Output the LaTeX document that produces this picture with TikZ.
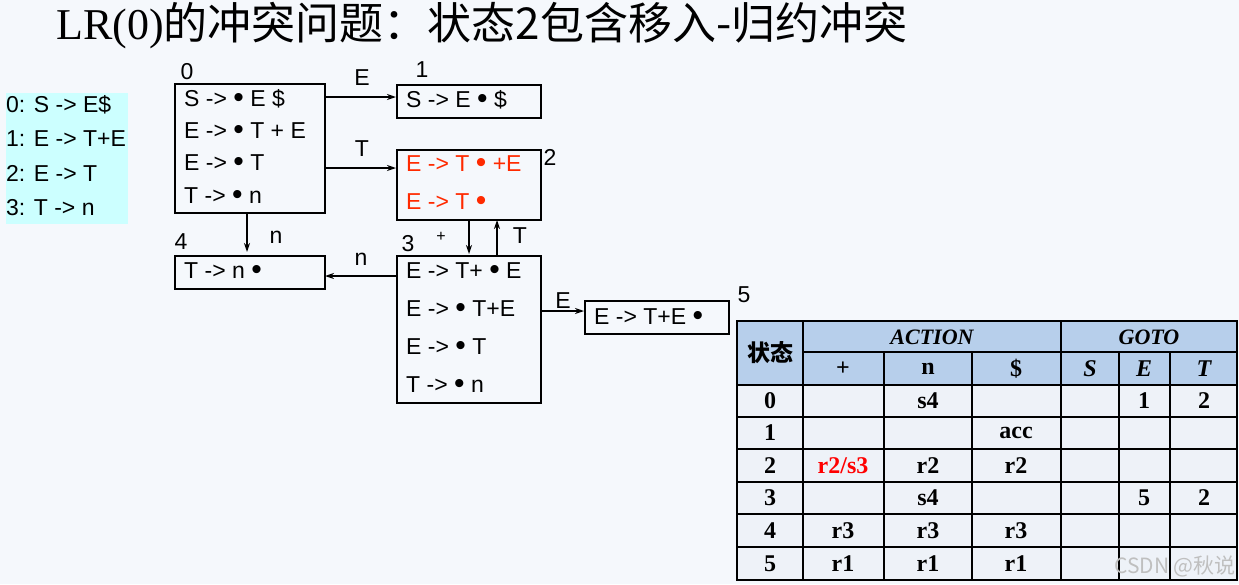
\documentclass[tikz,border=0pt]{standalone}
\usepackage{fontspec}
\setmainfont{Liberation Serif}
\newfontfamily\cjk{Noto Sans CJK SC}
\newfontfamily\diag{Liberation Sans}
\usetikzlibrary{arrows.meta}
\definecolor{hdr}{HTML}{B7CFEB}
\definecolor{cellbg}{HTML}{EEF2F8}
\definecolor{pagebg}{HTML}{F5F8FC}
\definecolor{cyanbox}{HTML}{CCFFFF}
\definecolor{redt}{HTML}{FF2A00}
\newcommand{\bt}{{\fontsize{30}{30}\selectfont\raisebox{-1pt}{•}}}
\tikzset{x=1pt,y=-1pt,
  st/.style={draw,line width=2pt,anchor=north west,inner sep=0pt},
  it/.style={font=\diag\fontsize{23}{23}\selectfont,anchor=west,inner sep=0pt},
  lb/.style={font=\diag\fontsize{23}{23}\selectfont,inner sep=0pt},
  ar/.style={-{Stealth[length=9pt,width=6pt]},line width=1.4pt},
  tc/.style={font=\bfseries\fontsize{24}{24}\selectfont,inner sep=0pt}}
\begin{document}
\begin{tikzpicture}
\useasboundingbox (0,0) rectangle (1239,584);
\fill[pagebg] (0,0) rectangle (1239,584);
% title
\node[anchor=west,inner sep=0pt,font=\cjk\fontsize{44}{44}\selectfont] (title) at (56,26) {{\rmfamily LR(0)}的冲突问题：状态2包含移入-归约冲突};
% grammar
\fill[cyanbox] (6,93) rectangle (128,224);
\node[it] (g0) at (6,105) {0: S -> E\$};
\node[it] (g1) at (6,139) {1: E -> T+E};
\node[it] (g2) at (6,173) {2: E -> T};
\node[it] (g3) at (6,208) {3: T -> n};
% states
\node[st,minimum width=150,minimum height=129] (s0) at (174,83) {};
\node[st,minimum width=144,minimum height=33] (s1) at (396,84) {};
\node[st,minimum width=144,minimum height=70] (s2) at (396,149) {};
\node[st,minimum width=144,minimum height=147] (s3) at (396,255) {};
\node[st,minimum width=150,minimum height=33] (s4) at (174,255) {};
\node[st,minimum width=144,minimum height=33] (s5) at (584,300) {};
\node[lb] (n0) at (187,72) {0};
\node[lb] (n1) at (422,70) {1};
\node[lb] (n2) at (550,157) {2};
\node[lb] (n3) at (408,244) {3};
\node[lb] (n4) at (181,242) {4};
\node[lb] (n5) at (744,295) {5};
\node[it] (a01) at (184,99) {S -> \bt\ E \$};
\node[it] (a02) at (184,131) {E -> \bt\ T + E};
\node[it] (a03) at (184,163) {E -> \bt\ T};
\node[it] (a04) at (184,196) {T -> \bt\ n};
\node[it] (a11) at (406,100) {S -> E \bt\ \$};
\node[it,text=redt] (a21) at (406,164) {E -> T \bt\ +E};
\node[it,text=redt] (a22) at (406,202) {E -> T \bt};
\node[it] (a31) at (406,271) {E -> T+ \bt\ E};
\node[it] (a32) at (406,309) {E -> \bt\ T+E};
\node[it] (a33) at (406,347) {E -> \bt\ T};
\node[it] (a34) at (406,385) {T -> \bt\ n};
\node[it] (a41) at (184,271) {T -> n \bt};
\node[it] (a51) at (594,317) {E -> T+E \bt};
% edges
\coordinate (c01) at (324,97); \coordinate (c01b) at (396,97);
\draw[ar] (c01) -- (c01b);
\coordinate (c02) at (324,168); \coordinate (c02b) at (396,168);
\draw[ar] (c02) -- (c02b);
\coordinate (c04) at (247,212); \coordinate (c04b) at (247,252);
\draw[ar] (c04) -- (c04b);
\coordinate (c34) at (396,276); \coordinate (c34b) at (325,276);
\draw[ar] (c34) -- (c34b);
\coordinate (c23) at (469,219); \coordinate (c23b) at (469,254);
\draw[ar] (c23) -- (c23b);
\coordinate (c32) at (497,255); \coordinate (c32b) at (497,220);
\draw[ar] (c32) -- (c32b);
\coordinate (c35) at (540,311); \coordinate (c35b) at (584,311);
\draw[ar] (c35) -- (c35b);
\node[lb] (l01) at (362,78) {E};
\node[lb] (l02) at (362,149) {T};
\node[lb] (l04) at (276,237) {n};
\node[lb] (l34) at (361,259) {n};
\node[lb,font=\diag\fontsize{16}{16}\selectfont] (l23) at (441,237) {+};
\node[lb] (l32) at (520,236) {T};
\node[lb] (l35) at (563,301) {E};
% table
\fill[hdr] (737,321) rectangle (1237,385);
\fill[cellbg] (737,385) rectangle (1237,580);
\draw[line width=2pt] (737,321) rectangle (1237,580);
\foreach \y in {385,417,449,482,514,547} \draw[line width=2pt] (737,\y) -- (1237,\y);
\draw[line width=2pt] (803,352) -- (1237,352);
\foreach \x in {803,1061} \draw[line width=2pt] (\x,321) -- (\x,580);
\foreach \x in {884,972,1119,1170} \draw[line width=2pt] (\x,352) -- (\x,580);
\node[tc,font=\cjk\bfseries\fontsize{23}{23}\selectfont] (hs) at (770,353) {状态};
\node[tc,font=\bfseries\itshape\fontsize{22}{22}\selectfont] (ha) at (932,337) {ACTION};
\node[tc,font=\bfseries\itshape\fontsize{22}{22}\selectfont] (hg) at (1149,337) {GOTO};
\node[tc] (h1) at (843,369) {+};
\node[tc] (h2) at (928,369) {n};
\node[tc] (h3) at (1016,369) {\$};
\node[tc,font=\bfseries\itshape\fontsize{24}{24}\selectfont] (h4) at (1090,369) {S};
\node[tc,font=\bfseries\itshape\fontsize{24}{24}\selectfont] (h5) at (1144,369) {E};
\node[tc,font=\bfseries\itshape\fontsize{24}{24}\selectfont] (h6) at (1204,369) {T};
\foreach \r/\y in {0/401,1/433,2/466,3/498,4/531,5/564} \node[tc] at (770,\y) {\r};
\node[tc] at (928,401) {s4};
\node[tc] at (1144,401) {1};
\node[tc] at (1204,401) {2};
\node[tc] at (1016,433) {acc};
\node[tc,text=red] at (843,466) {r2/s3};
\node[tc] at (928,466) {r2};
\node[tc] at (1016,466) {r2};
\node[tc] at (928,498) {s4};
\node[tc] at (1144,498) {5};
\node[tc] at (1204,498) {2};
\node[tc] at (843,531) {r3};
\node[tc] at (928,531) {r3};
\node[tc] at (1016,531) {r3};
\node[tc] at (843,564) {r1};
\node[tc] at (928,564) {r1};
\node[tc] at (1016,564) {r1};
\node[anchor=east,inner sep=0pt,text=gray!50,font=\cjk\fontsize{21}{21}\selectfont] (wm) at (1236,566) {CSDN @秋说};
\end{tikzpicture}
\end{document}
